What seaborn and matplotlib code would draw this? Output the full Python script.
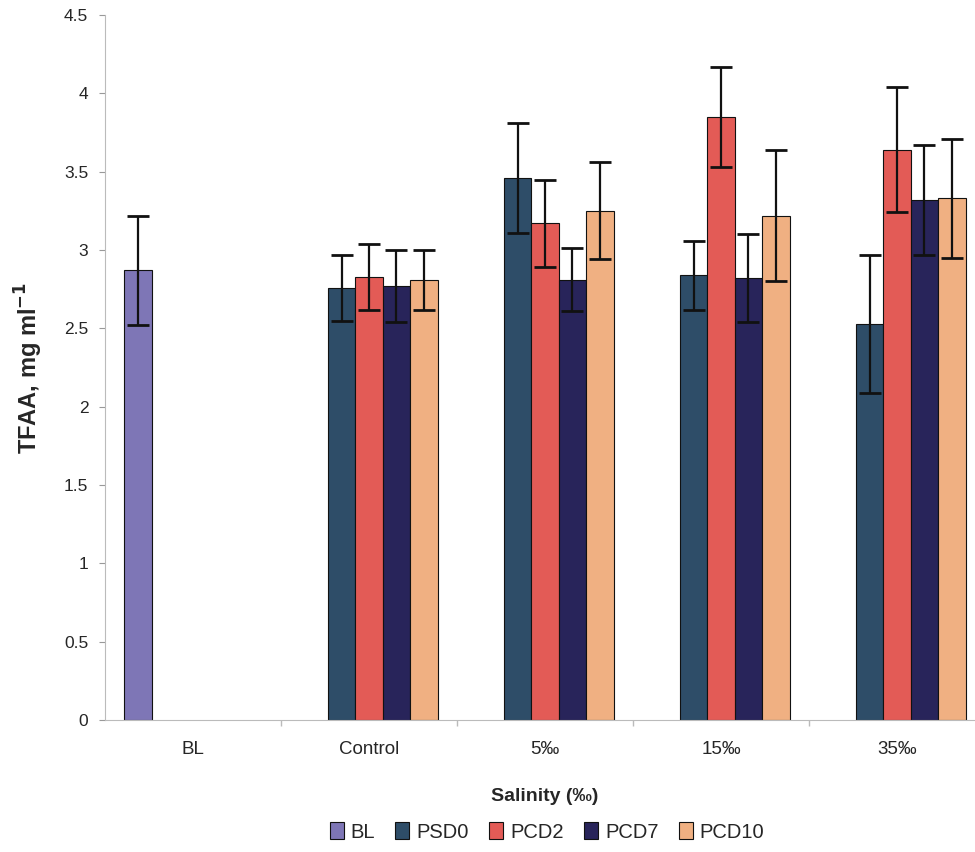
import matplotlib
matplotlib.use("Agg")
import matplotlib.pyplot as plt
import seaborn as sns
import pandas as pd
import numpy as np

categories = ["BL", "Control", "5‰", "15‰", "35‰"]
series = ["BL", "PSD0", "PCD2", "PCD7", "PCD10"]
colors = ["#7e76b6", "#2e4d68", "#e35b56", "#28245a", "#f0b082"]

# values per series (None = no bar)
bl_vals    = [2.87, None, None, None, None]
psd0_vals  = [None, 2.76, 3.46, 2.84, 2.53]
pcd2_vals  = [None, 2.83, 3.17, 3.85, 3.64]
pcd7_vals  = [None, 2.77, 2.81, 2.82, 3.32]
pcd10_vals = [None, 2.81, 3.25, 3.22, 3.33]

bl_err    = [0.35, None, None, None, None]
psd0_err  = [None, 0.21, 0.35, 0.22, 0.44]
pcd2_err  = [None, 0.21, 0.28, 0.32, 0.40]
pcd7_err  = [None, 0.23, 0.20, 0.28, 0.35]
pcd10_err = [None, 0.19, 0.31, 0.42, 0.38]

yticks = [0, 0.5, 1, 1.5, 2, 2.5, 3, 3.5, 4, 4.5]
ytick_labels = ["0", "0.5", "1", "1.5", "2", "2.5", "3", "3.5", "4", "4.5"]

vals = [bl_vals, psd0_vals, pcd2_vals, pcd7_vals, pcd10_vals]
errs = [bl_err, psd0_err, pcd2_err, pcd7_err, pcd10_err]

rows = []
for s, v, e in zip(series, vals, errs):
    for c, vv, ee in zip(categories, v, e):
        if vv is not None:
            rows.append({"Salinity": c, "Series": s, "TFAA": vv, "err": ee})
df = pd.DataFrame(rows)

sns.set_theme(style="white")
plt.rcParams["font.family"] = ["Liberation Sans", "DejaVu Sans"]

fig = plt.figure(figsize=(9.75, 8.52), dpi=100)
ax = fig.add_axes([105 / 975, 1 - 720 / 852, 880 / 975, (720 - 15) / 852])

sns.barplot(data=df, x="Salinity", y="TFAA", hue="Series",
            order=categories, hue_order=series, palette=colors,
            width=0.78, errorbar=None, edgecolor="#111111", linewidth=0.8,
            saturation=1, ax=ax)

for cont, s in zip(ax.containers, series):
    sub = df[df["Series"] == s].copy()
    sub["ord"] = sub["Salinity"].map({c: i for i, c in enumerate(categories)})
    sub = sub.sort_values("ord")
    bars = [b for b in cont if not np.isnan(b.get_height())]
    for b, (_, r) in zip(bars, sub.iterrows()):
        xc = b.get_x() + b.get_width() / 2
        ax.errorbar(xc, r["TFAA"], yerr=r["err"], fmt="none",
                    ecolor="#111111", elinewidth=1.6, capsize=8, capthick=2)

ax.set_xlim(-0.5, 4.5)
ax.set_ylim(0, 4.5)
ax.set_yticks(yticks)
ax.set_yticklabels(ytick_labels, fontsize=12.5)
ax.set_xticks(range(len(categories)))
ax.set_xticklabels(categories, fontsize=13.5)
ax.tick_params(axis="x", length=0, pad=15)
ax.tick_params(axis="y", length=4, width=0.8, color="#999999", left=True, pad=8)
ax.set_xticks([0.5, 1.5, 2.5, 3.5], minor=True)
ax.tick_params(axis="x", which="minor", length=4, color="#bbbbbb", bottom=True)

for sp in ["top", "right"]:
    ax.spines[sp].set_visible(False)
ax.spines["left"].set_color("#bbbbbb")
ax.spines["bottom"].set_color("#bbbbbb")
ax.spines["left"].set_linewidth(0.8)
ax.spines["bottom"].set_linewidth(0.8)

ax.set_ylabel(r"TFAA, mg ml$^\mathbf{-1}$", fontsize=17, fontweight="bold", labelpad=14)
ax.set_xlabel("Salinity (‰)", fontsize=14, fontweight="bold", labelpad=22)

handles, labels = ax.get_legend_handles_labels()
ax.get_legend().remove()
leg = fig.legend(handles, labels, loc="center", bbox_to_anchor=(547 / 975, 1 - 832 / 852),
                 ncol=5, frameon=False, fontsize=14.5, handlelength=0.7, handleheight=0.9,
                 handletextpad=0.35, columnspacing=1.0)
for h in leg.legend_handles:
    h.set_edgecolor("#111111")
    h.set_linewidth(0.8)

fig.savefig("out.png", dpi=100)
